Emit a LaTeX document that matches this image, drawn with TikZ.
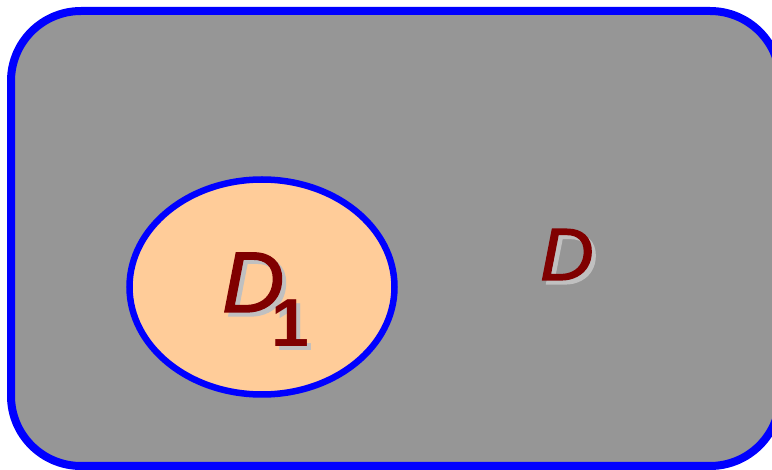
\documentclass[tikz,border=0pt]{standalone}
\usepackage{fontspec}
\usetikzlibrary{shapes.geometric}
\setmainfont{Liberation Sans}
\newfontface\dface[FakeBold=1.6]{Liberation Sans Italic}
\definecolor{bgray}{HTML}{969696}
\definecolor{peach}{HTML}{FFCC99}
\definecolor{dred}{HTML}{800000}
\definecolor{shad}{HTML}{C0C0C0}
\begin{document}
\begin{tikzpicture}[x=1pt,y=-1pt,
  lbl/.style={inner sep=0pt,anchor=base west,text=dred},
  shd/.style={inner sep=0pt,anchor=base west,text=shad}]
\useasboundingbox (0,0) rectangle (772,470);
\draw[draw=blue,fill=bgray,line width=8pt,rounded corners=70pt] (11,11) rectangle (780,466);
\node[draw=blue,fill=peach,line width=6.5pt,ellipse,minimum width=265pt,minimum height=215pt,inner sep=0pt] (d1e) at (262,287) {};
% D1 label
\node[shd] (d1s) at (226,316) {\fontsize{86}{86}\dface D};
\node[lbl] (d1) at (222,312) {\fontsize{86}{86}\dface D};
\node[shd] (ones) at (275,351) {\fontsize{68}{68}\selectfont\bfseries 1};
\node[lbl] (one) at (271,347) {\fontsize{68}{68}\selectfont\bfseries 1};
% D label
\node[shd] (ds) at (544,284) {\fontsize{74}{74}\dface D};
\node[lbl] (d) at (540,280) {\fontsize{74}{74}\dface D};
\end{tikzpicture}
\end{document}
